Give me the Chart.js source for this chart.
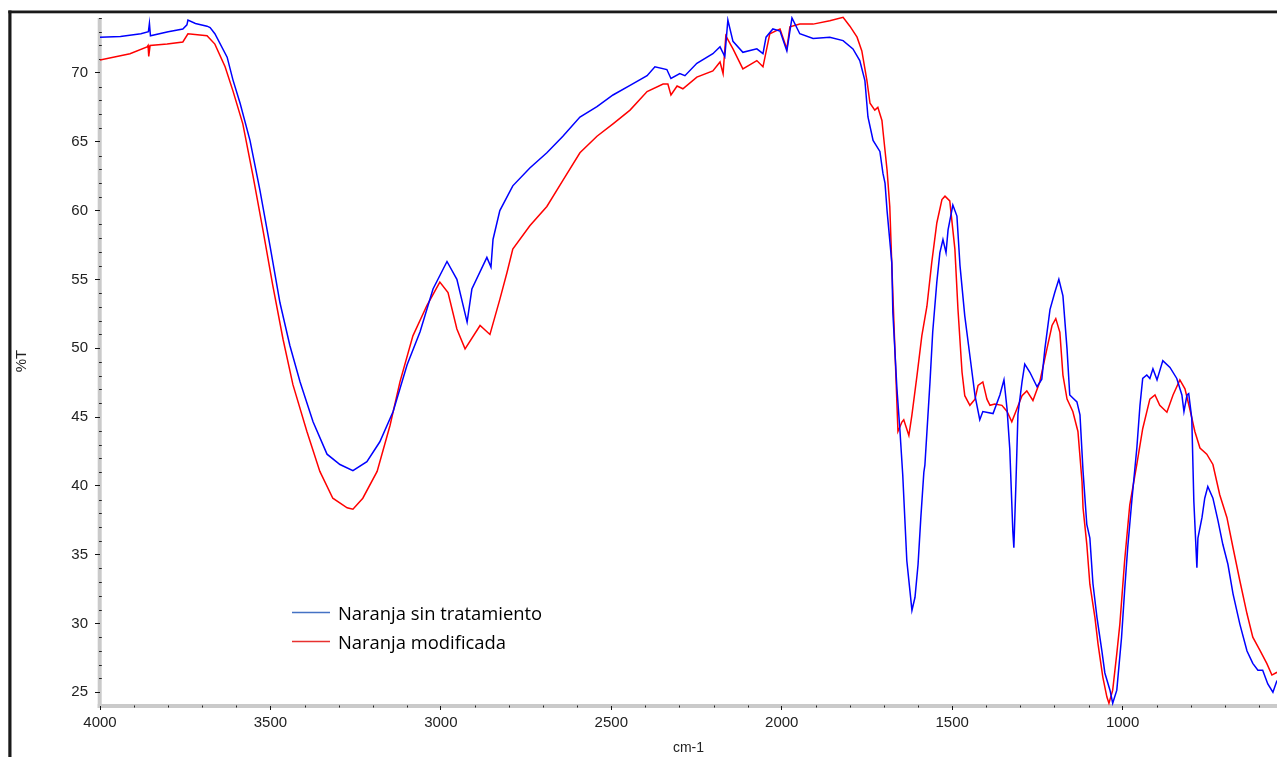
<!DOCTYPE html>
<html>
<head>
<meta charset="utf-8">
<title>FTIR - Naranja</title>
<script src="https://cdn.jsdelivr.net/npm/chart.js@4.4.1/dist/chart.umd.min.js"></script>
<style>
  html, body { margin: 0; padding: 0; background: #fff; }
  #wrap { width: 1277px; height: 757px; }
</style>
</head>
<body>
<div id="wrap"><canvas id="ftirChart" width="1277" height="757"></canvas></div>
<script>
// Wavenumber (cm-1) and %T
const blueWave = [
    4000, 3940, 3880, 3858, 3855, 3852, 3800, 3757, 3745, 3742,
    3720, 3686, 3677, 3663, 3627, 3610, 3589, 3560, 3531, 3501,
    3472, 3443, 3413, 3375, 3334, 3296, 3258, 3217, 3179, 3140,
    3099, 3061, 3023, 2982, 2953, 2923, 2909, 2865, 2853, 2847,
    2827, 2789, 2739, 2689, 2642, 2592, 2542, 2495, 2445, 2395,
    2372, 2337, 2325, 2299, 2284, 2249, 2202, 2181, 2167, 2158,
    2143, 2114, 2073, 2055, 2046, 2026, 2005, 1985, 1970, 1947,
    1908, 1859, 1820, 1791, 1771, 1756, 1747, 1732, 1712, 1703,
    1697, 1691, 1677, 1674, 1662, 1653, 1645, 1633, 1624, 1618,
    1609, 1600, 1592, 1583, 1580, 1565, 1557, 1545, 1536, 1527,
    1518, 1512, 1498, 1486, 1477, 1463, 1448, 1433, 1419, 1410,
    1380, 1360, 1348, 1339, 1331, 1322, 1319, 1313, 1307, 1295,
    1287, 1272, 1251, 1237, 1228, 1213, 1199, 1187, 1175, 1163,
    1155, 1134, 1125, 1116, 1105, 1096, 1087, 1075, 1061, 1052,
    1037, 1029, 1017, 1003, 994, 985, 973, 958, 949, 941,
    929, 920, 911, 899, 882, 861, 841, 826, 820, 811,
    806, 797, 791, 782, 779, 767, 759, 750, 735, 720,
    706, 691, 676, 656, 635, 618, 603, 589, 574, 559, 547
];
const blueT = [
    72.6, 72.65, 72.85, 73.0, 73.6, 72.7, 73.0, 73.2, 73.5, 73.85,
    73.6, 73.4, 73.3, 72.85, 71.15, 69.5, 67.8, 65.1, 61.5, 57.4,
    53.3, 50.2, 47.55, 44.65, 42.3, 41.55, 41.1, 41.75, 43.2, 45.4,
    48.8, 51.2, 54.3, 56.3, 55.0, 51.9, 54.3, 56.6, 55.9, 57.9,
    60.0, 61.8, 63.1, 64.2, 65.4, 66.8, 67.55, 68.4, 69.1, 69.8,
    70.45, 70.25, 69.6, 69.95, 69.8, 70.7, 71.4, 71.9, 71.2, 73.85,
    72.3, 71.5, 71.75, 71.4, 72.6, 73.2, 73.05, 71.6, 74.0, 72.85,
    72.5, 72.6, 72.35, 71.75, 70.9, 69.45, 66.8, 65.1, 64.3, 62.7,
    62.0, 60.0, 56.2, 52.6, 47.05, 43.95, 40.8, 34.55, 32.4, 30.95,
    31.9, 34.3, 37.65, 41.0, 41.5, 47.55, 51.2, 54.8, 56.95, 57.9,
    56.95, 58.6, 60.4, 59.6, 56.0, 52.35, 49.45, 46.55, 44.8, 45.4,
    45.25, 46.6, 47.7, 45.6, 42.7, 36.7, 35.5, 40.1, 45.2, 47.55,
    48.85, 48.25, 47.2, 47.75, 49.95, 52.8, 54.05, 55.0, 53.8, 49.95,
    46.6, 46.1, 45.15, 41.05, 37.2, 36.2, 32.9, 30.4, 28.05, 26.4,
    25.15, 24.2, 25.15, 29.0, 32.4, 35.5, 38.9, 42.8, 45.85, 47.8,
    48.05, 47.8, 48.5, 47.7, 49.1, 48.6, 47.8, 46.6, 45.4, 46.6,
    46.7, 44.9, 38.9, 34.05, 36.2, 37.7, 39.1, 39.95, 39.1, 37.45,
    35.75, 34.3, 32.15, 29.95, 28.0, 27.1, 26.6, 26.6, 25.6, 25.0, 25.85
];
const redWave = [
    4000, 3912, 3862, 3859, 3857, 3853, 3803, 3757, 3742, 3686,
    3663, 3633, 3610, 3581, 3551, 3522, 3493, 3463, 3434, 3393,
    3355, 3317, 3275, 3258, 3229, 3187, 3149, 3120, 3082, 3041,
    3003, 2979, 2953, 2929, 2885, 2856, 2827, 2806, 2789, 2739,
    2689, 2642, 2592, 2542, 2495, 2445, 2395, 2348, 2334, 2325,
    2307, 2290, 2249, 2202, 2181, 2172, 2164, 2143, 2114, 2073,
    2055, 2035, 2005, 1985, 1976, 1947, 1908, 1859, 1820, 1800,
    1779, 1765, 1750, 1741, 1727, 1718, 1706, 1703, 1691, 1683,
    1677, 1668, 1659, 1647, 1642, 1627, 1618, 1603, 1589, 1574,
    1560, 1545, 1530, 1521, 1507, 1492, 1483, 1471, 1463, 1448,
    1433, 1424, 1410, 1398, 1389, 1375, 1354, 1339, 1325, 1310,
    1295, 1281, 1263, 1243, 1222, 1207, 1196, 1184, 1175, 1163,
    1146, 1131, 1119, 1116, 1105, 1096, 1081, 1072, 1058, 1046,
    1040, 1029, 1017, 1008, 994, 979, 958, 941, 920, 905,
    891, 870, 852, 832, 817, 803, 788, 773, 753, 735,
    715, 694, 676, 656, 635, 618, 597, 577, 562, 547
];
const redT = [
    70.95, 71.4, 71.9, 72.0, 71.2, 72.0, 72.1, 72.25, 72.85, 72.7,
    72.1, 70.45, 68.7, 66.3, 62.5, 58.6, 54.55, 50.65, 47.35, 43.95,
    41.05, 39.1, 38.4, 38.3, 39.1, 41.05, 44.4, 47.55, 50.9, 53.1,
    54.8, 54.05, 51.4, 49.95, 51.65, 51.0, 53.55, 55.5, 57.2, 58.9,
    60.3, 62.2, 64.2, 65.4, 66.3, 67.3, 68.65, 69.2, 69.2, 68.4,
    69.05, 68.85, 69.7, 70.15, 70.8, 69.95, 72.7, 71.75, 70.3, 70.9,
    70.45, 72.85, 73.2, 71.75, 73.35, 73.55, 73.55, 73.8, 74.05, 73.4,
    72.6, 71.6, 69.45, 67.8, 67.3, 67.5, 66.55, 65.8, 62.95, 60.3,
    56.0, 49.95, 43.95, 44.65, 44.8, 43.65, 45.15, 48.05, 50.9, 53.05,
    56.2, 59.1, 60.8, 61.05, 60.7, 57.2, 52.85, 48.25, 46.55, 45.85,
    46.3, 47.3, 47.55, 46.3, 45.85, 45.95, 45.85, 45.4, 44.65, 45.6,
    46.55, 46.9, 46.2, 47.55, 49.95, 51.65, 52.15, 51.15, 48.05, 46.3,
    45.4, 43.95, 40.3, 38.4, 35.75, 32.85, 30.4, 28.5, 26.1, 24.65,
    24.2, 25.15, 27.8, 29.95, 34.55, 38.6, 41.6, 44.15, 46.3, 46.6,
    45.85, 45.35, 46.6, 47.7, 47.05, 45.6, 43.95, 42.75, 42.3, 41.55,
    39.35, 37.7, 35.5, 33.1, 30.7, 29.0, 28.05, 27.1, 26.25, 26.45
];

const seriesLabels = ['Naranja sin tratamiento', 'Naranja modificada'];
const lineColors = ['#0000ff', '#ff0000'];
const legendColors = ['#4472c4', '#e8312f'];
const yTickValues = [25, 30, 35, 40, 45, 50, 55, 60, 65, 70];
const xTickValues = [4000, 3500, 3000, 2500, 2000, 1500, 1000];

function toPoints(waves, values) {
    return waves.map((w, i) => ({ x: w, y: values[i] }));
}

// Grey axis bands, minor ticks, black frame and the in-plot legend
const spectrumDecor = {
    id: 'spectrumDecor',
    beforeDraw(chart) {
        const ctx = chart.ctx;
        const { left, right, top, bottom } = chart.chartArea;
        ctx.save();
        ctx.fillStyle = '#fff';
        ctx.fillRect(0, 0, chart.width, chart.height);
        ctx.fillStyle = '#cacaca';
        ctx.fillRect(left - 2.3, top + 2, 4, bottom - top);
        ctx.fillRect(left - 2.3, bottom - 2, right - left + 3, 4);
        ctx.restore();
    },
    beforeDatasetsDraw(chart) {
        const ctx = chart.ctx;
        const x = chart.scales.x;
        const y = chart.scales.y;
        ctx.save();
        ctx.strokeStyle = '#222';
        ctx.lineWidth = 1;
        ctx.beginPath();
        for (let v = 25; v <= 74; v++) {
            if (v % 5 === 0) continue;
            const py = Math.round(y.getPixelForValue(v)) + 0.5;
            ctx.moveTo(x.left - 1, py);
            ctx.lineTo(x.left + 1.8, py);
        }
        for (let w = 600; w < 4000; w += 100) {
            if (w % 500 === 0) continue;
            const px = Math.round(x.getPixelForValue(w)) + 0.5;
            ctx.moveTo(px, y.bottom - 0.5);
            ctx.lineTo(px, y.bottom + 1.5);
        }
        ctx.stroke();
        ctx.restore();
    },
    afterDraw(chart) {
        const ctx = chart.ctx;
        ctx.save();
        // frame
        ctx.fillStyle = '#1a1a1a';
        ctx.fillRect(8.3, 10.5, 3.2, chart.height - 10.5);
        ctx.fillRect(8.3, 10.5, chart.width - 8.3, 2.8);

        // legend
        ctx.font = '18.4px "Open Sans"';
        ctx.textBaseline = 'alphabetic';
        ctx.textAlign = 'left';
        chart.data.datasets.forEach((ds, i) => {
            const ly = 612.5 + i * 29;
            ctx.strokeStyle = legendColors[i];
            ctx.lineWidth = 1.4;
            ctx.beginPath();
            ctx.moveTo(292, ly);
            ctx.lineTo(330, ly);
            ctx.stroke();
            ctx.fillStyle = '#000';
            ctx.fillText(ds.label, 338, ly + 7);
        });
        ctx.restore();
    }
};

const ctx = document.getElementById('ftirChart').getContext('2d');
new Chart(ctx, {
    type: 'line',
    data: {
        datasets: [
            {
                label: seriesLabels[0],
                data: toPoints(blueWave, blueT),
                borderColor: lineColors[0],
                borderWidth: 1.5,
                pointRadius: 0,
                tension: 0,
                fill: false
            },
            {
                label: seriesLabels[1],
                data: toPoints(redWave, redT),
                borderColor: lineColors[1],
                borderWidth: 1.5,
                pointRadius: 0,
                tension: 0,
                fill: false
            }
        ]
    },
    options: {
        responsive: false,
        animation: false,
        layout: { padding: { left: 0, right: 0, top: 12, bottom: 0 } },
        plugins: {
            legend: { display: false },
            tooltip: { enabled: false }
        },
        scales: {
            x: {
                type: 'linear',
                reverse: true,
                min: 547,
                max: 4000,
                afterBuildTicks: s => { s.ticks = xTickValues.map(v => ({ value: v })); },
                afterFit: s => { s.height = 51; },
                border: { display: false },
                grid: {
                    drawOnChartArea: false,
                    drawTicks: true,
                    tickLength: 4,
                    tickColor: '#111',
                    tickWidth: 1
                },
                ticks: {
                    autoSkip: false,
                    maxRotation: 0,
                    padding: 4,
                    color: '#222',
                    font: { family: '"Liberation Sans", Arial, sans-serif', size: 15 },
                    callback: v => String(v)
                },
                title: {
                    display: true,
                    text: 'cm-1',
                    color: '#222',
                    padding: { top: 0, bottom: 0 },
                    font: { family: '"Liberation Sans", Arial, sans-serif', size: 14 }
                }
            },
            y: {
                type: 'linear',
                min: 24.0,
                max: 74.14,
                afterBuildTicks: s => { s.ticks = yTickValues.map(v => ({ value: v })); },
                afterFit: s => { s.width = 100; },
                border: { display: false },
                grid: {
                    drawOnChartArea: false,
                    drawTicks: true,
                    tickLength: 5,
                    tickColor: '#111',
                    tickWidth: 1
                },
                ticks: {
                    autoSkip: false,
                    padding: 7,
                    color: '#222',
                    font: { family: '"Liberation Sans", Arial, sans-serif', size: 15 },
                    callback: v => String(v)
                },
                title: {
                    display: true,
                    text: '%T',
                    color: '#222',
                    padding: { top: 13, bottom: 0 },
                    font: { family: '"Liberation Sans", Arial, sans-serif', size: 15 }
                }
            }
        }
    },
    plugins: [spectrumDecor]
});
</script>
</body>
</html>
